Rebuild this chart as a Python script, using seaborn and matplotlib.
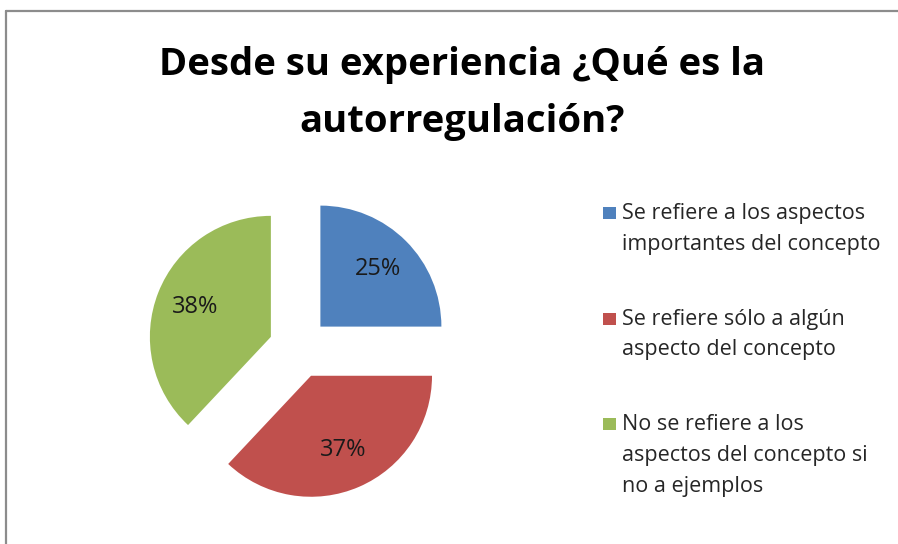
import matplotlib
matplotlib.use("Agg")
import matplotlib.pyplot as plt
import seaborn as sns
from matplotlib.lines import Line2D
from matplotlib.patches import Rectangle

# chart data
categorias = [
    "Se refiere a los aspectos\nimportantes del concepto",
    "Se refiere sólo a algún\naspecto del concepto",
    "No se refiere a los\naspectos del concepto si\nno a ejemplos",
]
porcentajes = [25, 37, 38]
colores = ["#4F81BD", "#C0504D", "#9BBB59"]
titulo = ["Desde su experiencia ¿Qué es la", "autorregulación?"]

sns.set_theme(style="white")
plt.rcParams["font.family"] = ["Open Sans", "DejaVu Sans"]

W, H = 898, 544
fig = plt.figure(figsize=(W / 100, H / 100), dpi=100)
fig.patch.set_facecolor("white")


def fx(px):
    return px / W


def fy(py):
    return 1 - py / H


# pie axes: centre at (299, 348) px, radius 121 px
cx, cy, r = 299, 348, 121
half = 200
ax = fig.add_axes([(cx - half) / W, (H - cy - half) / H, 2 * half / W, 2 * half / H])
ax.pie(
    porcentajes,
    colors=colores,
    startangle=90,
    counterclock=False,
    explode=[0.25, 0.25, 0.25],
    autopct="%1.0f%%",
    pctdistance=0.67,
    textprops={"fontsize": 17, "color": "#1a1a1a"},
    wedgeprops={"linewidth": 0},
)
ax.set_xlim(-half / r, half / r)
ax.set_ylim(-half / r, half / r)
ax.set_aspect("equal")
ax.axis("off")

# title (two lines)
for linea, base in zip(titulo, [75, 132]):
    fig.text(fx(462), fy(base), linea, ha="center", va="baseline",
             fontsize=27.5, fontweight="bold", color="black")

# legend, drawn by hand so the key sits next to the first line
for i, (lab, col) in enumerate(zip(categorias, colores)):
    base = 219 + i * 105.5
    fig.add_artist(Rectangle((fx(603), fy(base)), 13 / W, 12 / H,
                             facecolor=col, edgecolor="none",
                             transform=fig.transFigure))
    for j, linea in enumerate(lab.split("\n")):
        fig.text(fx(622), fy(base + j * 31), linea, ha="left", va="baseline",
                 fontsize=15.5, color="#262626")

# frame lines (top and left)
fig.add_artist(Line2D([fx(6), 1], [fy(11), fy(11)], color="#8c8c8c",
                      linewidth=1.6, transform=fig.transFigure))
fig.add_artist(Line2D([fx(6), fx(6)], [0, fy(11)], color="#8c8c8c",
                      linewidth=1.6, transform=fig.transFigure))

fig.savefig("out.png", dpi=100)
